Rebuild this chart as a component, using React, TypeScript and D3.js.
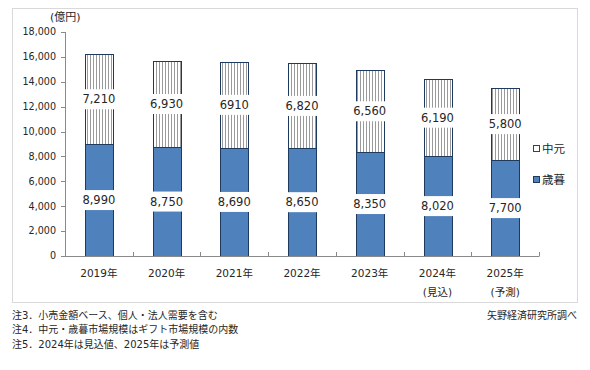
import React from 'react';
import * as d3 from 'd3';

const years = ['2019年', '2020年', '2021年', '2022年', '2023年', '2024年', '2025年'];
const yearSub = ['', '', '', '', '', '(見込)', '(予測)'];
const winter = [8990, 8750, 8690, 8650, 8350, 8020, 7700];
const summer = [7210, 6930, 6910, 6820, 6560, 6190, 5800];
const winterLabels = ['8,990', '8,750', '8,690', '8,650', '8,350', '8,020', '7,700'];
const summerLabels = ['7,210', '6,930', '6910', '6,820', '6,560', '6,190', '5,800'];
const yTicks = [0, 2000, 4000, 6000, 8000, 10000, 12000, 14000, 16000, 18000];
const legendItems = ['中元', '歳暮'];
const notes = [
  '注3．小売金額ベース、個人・法人需要を含む',
  '注4．中元・歳暮市場規模はギフト市場規模の内数',
  '注5．2024年は見込値、2025年は予測値',
];
const source = '矢野経済研究所調べ';

const FONT = '"DejaVu Sans", "Noto Sans CJK JP", sans-serif';
const BLUE = '#4f81bd';
const EDGE = '#1f3a5f';
const TEXT = '#262626';

export default function App() {
  const W = 590, H = 370;
  const y = d3.scaleLinear().domain([0, 18000]).range([256, 32]);
  const x = d3.scaleBand<string>().domain(years).range([65, 539]).paddingInner(0.59).paddingOuter(0.295);
  const bw = x.bandwidth();
  const step = x.step();
  const fmt = d3.format(',');

  const labelBox = (txt: string, cx: number, cy: number, key: string) => {
    const tw = txt.length * 7 + 4;
    const w = Math.max(tw, bw + 4);
    return (
      <g key={key}>
        <rect x={cx - w / 2} y={cy - 10} width={w} height={20} fill="#fff" />
        <text x={cx} y={cy} dy="0.36em" textAnchor="middle" fontSize={11.5} fill={TEXT} fontFamily={FONT}>{txt}</text>
      </g>
    );
  };

  return (
    <svg width={W} height={H} style={{ position: 'absolute', left: 0, top: 0, background: '#fff' }}>
      <defs>
        <pattern id="vstripe" patternUnits="userSpaceOnUse" width={3} height={4}>
          <rect width={3} height={4} fill="#fff" />
          <rect x={0} width={1} height={4} fill="#9a9a9a" />
        </pattern>
      </defs>
      <rect x={0} y={0} width={W} height={H} fill="#fff" />
      <rect x={12.5} y={8.5} width={565} height={294} fill="none" stroke="#d9d9d9" />

      {/* y axis */}
      <line x1={65.5} x2={65.5} y1={y(18000)} y2={y(0)} stroke="#898989" />
      {yTicks.map(t => (
        <g key={t}>
          <line x1={61} x2={65.5} y1={Math.round(y(t)) + 0.5} y2={Math.round(y(t)) + 0.5} stroke="#898989" />
          <text x={56} y={y(t)} dy="0.35em" textAnchor="end" fontSize={9.6} fill={TEXT} fontFamily={FONT}>{fmt(t)}</text>
        </g>
      ))}
      <text x={50} y={21} fontSize={11} fill={TEXT} fontFamily={FONT}>(億円)</text>

      {/* bars */}
      {years.map((yr, i) => {
        const x0 = x(yr)!;
        const yw = y(winter[i]);
        const ys = y(winter[i] + summer[i]);
        return (
          <g key={yr}>
            <rect x={Math.round(x0) + 0.5} y={Math.round(ys) + 0.5} width={Math.round(bw)} height={Math.round(yw) - Math.round(ys)} fill="url(#vstripe)" stroke={EDGE} strokeWidth={1} />
            <rect x={Math.round(x0) + 0.5} y={Math.round(yw) + 0.5} width={Math.round(bw)} height={Math.round(y(0)) - Math.round(yw)} fill={BLUE} stroke={EDGE} strokeWidth={1} />
          </g>
        );
      })}

      {/* x axis */}
      <line x1={65} x2={539} y1={256.5} y2={256.5} stroke="#898989" />
      {d3.range(years.length + 1).map(k => {
        const px = Math.round(65 + k * step) + 0.5;
        return <line key={k} x1={px} x2={px} y1={252} y2={256.5} stroke="#898989" />;
      })}

      {/* value labels */}
      {years.map((yr, i) => {
        const cx = x(yr)! + bw / 2;
        return (
          <g key={'l' + yr}>
            {labelBox(winterLabels[i], cx, y(winter[i] / 2), 'w')}
            {labelBox(summerLabels[i], cx, y(winter[i] + summer[i] / 2), 's')}
          </g>
        );
      })}

      {/* x labels */}
      {years.map((yr, i) => {
        const cx = x(yr)! + bw / 2;
        return (
          <g key={'x' + yr}>
            <text x={cx} y={273} dy="0.35em" textAnchor="middle" fontSize={10.5} fill={TEXT} fontFamily={FONT}>{yr}</text>
            {yearSub[i] && (
              <text x={cx} y={292} dy="0.35em" textAnchor="middle" fontSize={10.5} fill={TEXT} fontFamily={FONT}>{yearSub[i]}</text>
            )}
          </g>
        );
      })}

      {/* legend */}
      {legendItems.map((name, i) => {
        const ly = 149 + i * 31;
        return (
          <g key={name}>
            <rect x={533.5} y={ly - 3.5} width={6} height={6} fill={i === 0 ? '#fff' : BLUE} stroke={i === 0 ? '#404040' : EDGE} />
            <text x={542} y={ly} dy="0.36em" fontSize={11.5} fill={TEXT} fontFamily={FONT}>{name}</text>
          </g>
        );
      })}

      {/* notes */}
      {notes.map((n, i) => (
        <text key={i} x={12} y={315 + i * 14.5} dy="0.35em" fontSize={10} fill={TEXT} fontFamily={FONT}>{n}</text>
      ))}
      <text x={577} y={315} dy="0.35em" textAnchor="end" fontSize={10} fill={TEXT} fontFamily={FONT}>{source}</text>
    </svg>
  );
}
